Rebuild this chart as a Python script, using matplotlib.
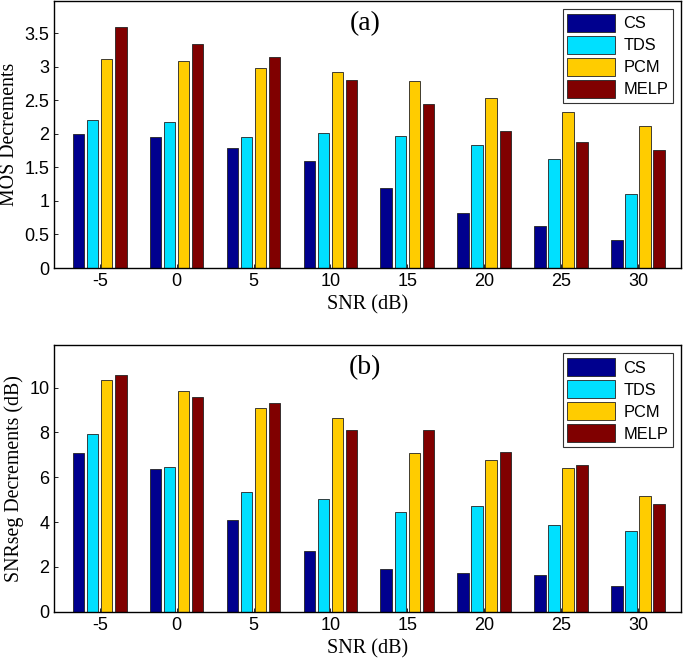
import numpy as np
import matplotlib
matplotlib.use("Agg")
import matplotlib.pyplot as plt

# SNR conditions
snr_labels = ["-5", "0", "5", "10", "15", "20", "25", "30"]
methods = ["CS", "TDS", "PCM", "MELP"]

# (a) MOS decrements
mos_cs = [2.00, 1.95, 1.79, 1.60, 1.19, 0.82, 0.62, 0.41]
mos_tds = [2.20, 2.17, 1.95, 2.01, 1.97, 1.83, 1.62, 1.10]
mos_pcm = [3.12, 3.08, 2.98, 2.92, 2.79, 2.53, 2.33, 2.11]
mos_melp = [3.59, 3.34, 3.15, 2.80, 2.44, 2.04, 1.88, 1.76]

# (b) SNRseg decrements (dB)
seg_cs = [7.09, 6.36, 4.07, 2.72, 1.89, 1.73, 1.62, 1.16]
seg_tds = [7.91, 6.47, 5.32, 5.05, 4.43, 4.70, 3.85, 3.60]
seg_pcm = [10.32, 9.84, 9.11, 8.65, 7.09, 6.78, 6.42, 5.17]
seg_melp = [10.58, 9.59, 9.33, 8.09, 8.09, 7.13, 6.53, 4.82]

colors = ["#00008E", "#00E0FF", "#FFCC00", "#800000"]

serif = ["Liberation Serif", "DejaVu Serif"]
sans = ["Liberation Sans", "DejaVu Sans"]
plt.rcParams["font.family"] = sans

fig = plt.figure(figsize=(6.85, 6.58), dpi=100)
ax_a = fig.add_axes([0.0793, 0.5927, 0.915, 0.406])
ax_b = fig.add_axes([0.0793, 0.0704, 0.915, 0.4053])

x = np.arange(1, len(snr_labels) + 1)
step = 0.183
width = 0.15


def draw(ax, series, ylabel, ylim, yticks, yticklabels, tag):
    for i, (vals, col, name) in enumerate(zip(series, colors, methods)):
        ax.bar(x + (i - 1.5) * step, vals, width, color=col, edgecolor="#222222",
               linewidth=0.6, label=name)
    ax.set_xlim(0.41, 8.56)
    ax.set_ylim(*ylim)
    ax.set_xticks(x)
    ax.set_xticklabels(snr_labels)
    ax.set_yticks(yticks)
    ax.set_yticklabels(yticklabels)
    ax.tick_params(direction="in", length=3, labelsize=13, width=0.6)
    ax.set_xlabel("SNR (dB)", family=serif, fontsize=14.5)
    ax.set_ylabel(ylabel, family=serif, fontsize=14.3)
    for s in ax.spines.values():
        s.set_linewidth(1.0)
    ax.text(0.496, 0.915, tag, transform=ax.transAxes, family=serif, fontsize=20,
            ha="center", va="center")
    leg = ax.legend(loc="upper right", fontsize=11.8, handlelength=2.9,
                    handleheight=1.35, fancybox=False, framealpha=1,
                    edgecolor="#333333", borderpad=0.3, labelspacing=0.22,
                    handletextpad=0.5, borderaxespad=0,
                    bbox_to_anchor=(0.987, 0.97))
    leg.get_frame().set_linewidth(0.8)


draw(ax_a, [mos_cs, mos_tds, mos_pcm, mos_melp], "MOS Decrements",
     (0, 3.98), [0, 0.5, 1, 1.5, 2, 2.5, 3, 3.5],
     ["0", "0.5", "1", "1.5", "2", "2.5", "3", "3.5"], "(a)")
draw(ax_b, [seg_cs, seg_tds, seg_pcm, seg_melp], "SNRseg Decrements (dB)",
     (0, 11.9), [0, 2, 4, 6, 8, 10],
     ["0", "2", "4", "6", "8", "10"], "(b)")

fig.savefig("out.png", dpi=100)
